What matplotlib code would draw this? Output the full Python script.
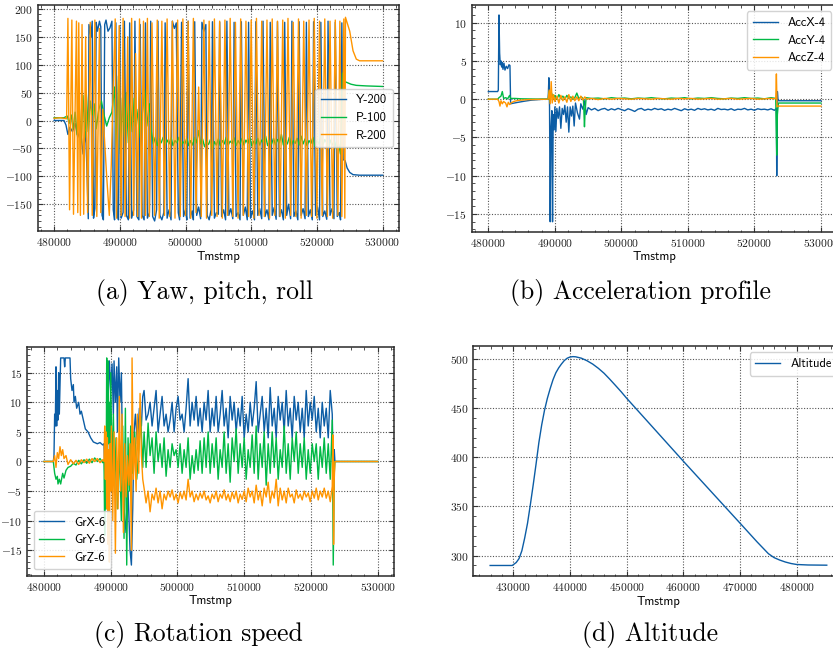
import numpy as np
import matplotlib
matplotlib.use('Agg')
import matplotlib.pyplot as plt
from matplotlib.ticker import MultipleLocator, AutoMinorLocator

# ---------------- data (time in thousands of ms) ----------------
yaw = [(480.0, 0), (481.5, 0), (481.8, -8), (482.1, -25), (482.4, -12), (482.8, -20), (483.2, -5),
       (483.6, -30), (484.0, -15), (484.4, -60), (484.8, -20), (485.0, -90), (485.2, -176), (485.3, 172),
       (485.6, 150), (485.8, 178), (486.0, -175), (486.2, -158), (486.4, 176), (486.6, 160), (486.9, 178),
       (487.1, 168), (487.3, -170), (487.5, -178), (487.7, 172), (487.9, 180), (488.2, 160), (488.5, 166),
       (488.8, 178), (489.0, -160), (489.2, -178), (489.4, 175), (489.6, -170), (489.8, -178), (490.0, 170),
       (490.2, -175), (490.5, -165), (490.7, 178), (491.0, -170), (491.3, -178), (491.5, 175), (491.8, -175),
       (492.1, -160), (492.3, 178), (492.6, -172), (492.9, -178), (493.1, 172), (493.4, -170), (493.7, -178),
       (493.9, 175), (494.2, -175), (494.5, -165), (494.7, 178), (495.0, -172), (495.3, -180), (495.6, -160),
       (495.8, 178), (496.1, -170), (496.4, -178), (496.7, -165), (496.9, 175), (497.2, -175), (497.5, -160),
       (497.8, -178), (498.0, 178), (498.3, 165), (498.6, 175), (498.9, -165), (499.1, -178), (499.4, 176),
       (499.7, -172), (500.0, -160), (500.2, -178), (500.4, 178), (500.7, -175), (501.0, -162), (501.2, -178),
       (501.4, 177), (501.7, -170), (502.0, -155), (502.3, -176), (502.5, 176), (502.8, 160), (503.1, 172),
       (503.3, -170), (503.6, -178), (503.9, -160), (504.1, 177), (504.4, -175), (504.7, -165), (505.0, -168),
       (505.2, 176), (505.5, -172), (505.8, -160), (506.1, -178), (506.3, 178), (506.6, -170), (506.9, -158),
       (507.2, -176), (507.4, 176), (507.7, -172), (508.0, -165), (508.3, -178), (508.5, 177), (508.8, -170),
       (509.1, -155), (509.4, -178), (509.6, 176), (509.9, -175), (510.2, -162), (510.5, -178), (510.7, 177),
       (511.0, -170), (511.3, -158), (511.6, -176), (511.8, 178), (512.1, -172), (512.4, -160), (512.7, -178),
       (512.9, 176), (513.2, -170), (513.5, -156), (513.8, -177), (514.0, 177), (514.3, -172), (514.6, -160),
       (514.9, -178), (515.1, 176), (515.4, -170), (515.7, -150), (516.0, -176), (516.2, 178), (516.5, -172),
       (516.8, -162), (517.1, -178), (517.3, 177), (517.6, -170), (517.9, -158), (518.2, -176), (518.4, 176),
       (518.7, -172), (519.0, -160), (519.3, -178), (519.5, 177), (519.8, -170), (520.1, -155), (520.4, -178),
       (520.6, 176), (520.9, -172), (521.2, -162), (521.5, -177), (521.7, 178), (522.0, -170), (522.3, -158),
       (522.6, -176), (522.8, 176), (523.1, -172), (523.4, -165), (523.6, -178), (523.8, 175), (524.0, -70),
       (524.3, -72), (524.6, -85), (525.0, -93), (525.5, -97), (526.5, -98), (530.0, -98)]

pitch = [(480.0, 5), (481.5, 5), (482.0, 8), (482.3, -5), (482.6, 10), (482.9, -15), (483.2, 15), (483.5, -25),
         (483.8, 30), (484.1, -40), (484.4, 45), (484.7, -30), (484.9, 50), (485.2, -20), (485.5, 35),
         (485.8, 10), (486.1, 30), (486.4, -15), (486.8, 20), (487.2, 35), (487.6, 10), (488.0, -10),
         (488.4, 5), (488.8, 15), (489.2, 60), (489.5, -50), (489.8, 80), (490.1, -60), (490.4, 40),
         (490.7, -30), (491.0, 50), (491.3, -40), (491.6, 30), (491.9, -20), (492.2, 40), (492.5, -10),
         (492.8, 20), (493.1, -30), (493.4, 10), (493.8, 55), (494.1, -10), (494.5, 30), (494.8, -20),
         (495.1, -42), (495.4, -30), (495.7, -45), (496.0, -33), (496.3, -40), (496.6, -30), (496.9, -44),
         (497.2, -35), (497.5, -42), (497.8, -31), (498.1, -45), (498.4, -36), (498.7, -40), (499.0, -30),
         (499.3, -46), (499.6, -38), (499.9, -42), (500.2, -32), (500.5, -45), (500.8, -36), (501.1, -44),
         (501.4, -30), (501.7, -40), (502.0, -18), (502.3, -42), (502.6, -33), (502.9, -47), (503.2, -38),
         (503.5, -43), (503.8, -34), (504.1, -52), (504.4, -38), (504.7, -44), (505.0, -33), (505.3, -45),
         (505.6, -36), (505.9, -42), (506.2, -30), (506.5, -44), (506.8, -37), (507.1, -41), (507.4, -31),
         (507.7, -45), (508.0, -36), (508.3, -42), (508.6, -32), (508.9, -44), (509.2, -35), (509.5, -41),
         (509.8, -30), (510.1, -46), (510.4, -37), (510.7, -42), (511.0, -32), (511.3, -44), (511.6, -35),
         (511.9, -40), (512.2, -28), (512.5, -45), (512.8, -36), (513.1, -42), (513.4, -32), (513.7, -44),
         (514.0, -34), (514.3, -40), (514.6, -25), (514.9, -44), (515.2, -35), (515.5, -42), (515.8, -30),
         (516.1, -45), (516.4, -36), (516.7, -41), (517.0, -32), (517.3, -44), (517.6, -28), (517.9, -42),
         (518.2, -33), (518.5, -45), (518.8, -36), (519.1, -41), (519.4, -30), (519.7, -46), (520.0, -36),
         (520.3, -42), (520.6, -28), (520.9, -44), (521.2, -34), (521.5, -40), (521.8, -48), (522.1, -35),
         (522.4, -44), (522.7, -38), (523.0, -50), (523.3, -42), (523.6, -60), (523.9, 85), (524.2, 70),
         (524.6, 68), (525.2, 65), (526.0, 63), (527.5, 62), (530.0, 61)]

roll = [(480.0, 4), (481.0, 5), (481.9, 3), (482.1, 183), (482.35, -160), (482.7, 180), (482.95, -168),
        (483.4, 178), (483.6, -165), (483.75, 175), (484.0, -170), (484.25, 172), (484.5, -168), (484.8, 150),
        (485.1, -165), (485.5, 176), (485.8, -170), (486.2, 180), (486.5, -172), (486.9, 165), (487.1, -165),
        (487.4, 20), (488.0, -100), (488.4, -170), (488.7, -80), (489.0, 60), (489.3, 182), (489.5, -175),
        (489.9, 170), (490.2, -170), (490.5, 183), (490.8, -172), (491.2, 150), (491.5, -175), (491.8, 183),
        (492.1, -170), (492.4, 120), (492.7, -172), (493.0, 182), (493.3, -175), (493.6, 178), (493.9, -170),
        (494.2, 183), (494.5, -172), (494.9, 175), (495.3, -170), (495.7, 180), (496.0, -175), (496.4, 178),
        (496.8, -170), (497.2, 182), (497.6, -172), (498.0, 178), (498.4, -175), (498.8, 180), (499.2, -172),
        (499.6, 182), (500.0, -170), (500.4, 178), (500.8, -175), (501.2, 183), (501.6, -165), (502.0, 60),
        (502.4, -172), (502.8, 180), (503.2, -175), (503.6, 178), (504.0, -170), (504.4, 182), (504.8, -172),
        (505.2, 178), (505.6, -175), (506.0, 180), (506.4, -170), (506.8, 183), (507.2, -172), (507.6, 176),
        (508.0, -175), (508.4, 182), (508.8, -170), (509.2, 178), (509.6, -172), (510.0, 180), (510.4, -175),
        (510.8, 183), (511.2, -170), (511.6, 178), (512.0, -172), (512.4, 180), (512.8, -175), (513.2, 182),
        (513.6, -170), (514.0, 178), (514.4, -172), (514.8, 180), (515.2, -175), (515.6, 183), (516.0, -170),
        (516.4, 176), (516.8, -172), (517.2, 182), (517.6, -175), (518.0, 178), (518.4, -170), (518.8, 180),
        (519.2, -172), (519.6, 183), (520.0, -175), (520.4, 178), (520.8, -170), (521.2, 182), (521.6, -172),
        (522.0, 178), (522.4, -175), (522.8, 180), (523.2, -170), (523.5, 178), (523.8, -172), (524.1, 182),
        (524.25, -175), (524.35, 185), (525.0, 160), (525.5, 125), (526.0, 110), (526.5, 107), (528.0, 107),
        (530.0, 107)]

acc_x = [(480.0, 1.0), (481.4, 1.0), (481.5, 1.2), (481.6, 11.0), (481.7, 6.0), (481.8, 4.5), (481.9, 5.0),
         (482.0, 4.2), (482.1, 4.8), (482.2, 3.9), (482.35, 4.7), (482.5, 3.8), (482.7, 4.3), (482.9, 4.0),
         (483.1, 4.5), (483.25, 4.4), (483.35, -0.6), (483.6, -0.55), (484.5, -0.4), (485.5, -0.25),
         (486.5, -0.12), (488.0, -0.02), (489.0, 0.0), (489.1, 2.8), (489.2, -1.0), (489.3, -16.0),
         (489.4, -4.0), (489.55, -1.5), (489.65, -16.0), (489.75, -2.0), (489.9, -4.0), (490.0, -1.0),
         (490.15, -4.2), (490.3, -1.2), (490.5, -2.5), (490.7, -1.0), (490.9, -3.8), (491.1, -1.2),
         (491.3, -2.0), (491.5, -0.8), (491.7, -3.0), (491.9, -1.0), (492.1, -4.3), (492.3, -1.0),
         (492.5, -2.2), (492.7, -0.9), (492.9, -3.5), (493.1, -0.5), (493.4, -1.8), (493.7, -2.6),
         (493.9, -0.6), (494.2, -1.3), (494.5, -0.2), (494.7, -2.0), (495.0, -1.1), (495.5, -1.4),
         (496.0, -1.2), (496.5, -1.5), (497.0, -1.3), (497.5, -1.2), (498.0, -1.45), (498.5, -1.25),
         (499.0, -1.4), (499.5, -1.2), (500.0, -1.35), (500.5, -1.5), (501.0, -1.25), (501.5, -1.4),
         (502.0, -1.6), (502.5, -1.3), (503.0, -1.2), (503.5, -1.45), (504.0, -1.3), (504.5, -1.4),
         (505.0, -1.2), (505.5, -1.35), (506.0, -1.25), (506.5, -1.45), (507.0, -1.3), (507.5, -1.4),
         (508.0, -1.2), (508.5, -1.35), (509.0, -1.5), (509.5, -1.25), (510.0, -1.4), (510.5, -1.3),
         (511.0, -1.45), (511.5, -1.2), (512.0, -1.35), (512.5, -1.25), (513.0, -1.4), (513.5, -1.3),
         (514.0, -1.45), (514.5, -1.2), (515.0, -1.35), (515.5, -1.3), (516.0, -1.4), (516.5, -1.25),
         (517.0, -1.45), (517.5, -1.3), (518.0, -1.35), (518.5, -1.2), (519.0, -1.4), (519.5, -1.3),
         (520.0, -1.45), (520.5, -1.25), (521.0, -1.35), (521.5, -1.3), (522.0, -1.4), (522.5, -1.25),
         (523.0, -1.45), (523.3, -1.2), (523.35, -10.0), (523.45, 1.0), (523.55, -0.2), (530.0, -0.2)]

acc_y = [(480.0, 0.0), (481.4, 0.0), (481.6, 0.2), (481.9, 0.4), (482.1, 1.0), (482.3, 0.1), (482.6, 0.2),
         (482.9, 0.05), (483.2, 0.5), (483.35, 0.1), (484.0, 0.1), (485.0, 0.05), (489.0, 0.0), (489.1, 1.0),
         (489.25, -0.3), (489.5, 0.8), (489.8, 0.1), (490.0, 0.5), (490.3, 0.0), (490.6, 0.6), (490.9, 0.1),
         (491.2, 0.4), (491.5, 0.0), (491.8, 0.5), (492.1, 0.1), (492.4, 0.3), (492.7, 0.0), (493.0, 0.2),
         (493.3, 0.8), (493.6, 0.1), (494.0, 0.3), (494.3, 0.0), (494.45, -3.6), (494.55, -1.5), (494.7, 0.2),
         (495.5, 0.1), (496.5, 0.15), (497.5, 0.05), (498.5, 0.2), (499.5, 0.1), (500.5, 0.15), (501.5, 0.05),
         (502.5, 0.15), (503.5, 0.1), (504.5, 0.2), (505.5, 0.1), (506.5, 0.05), (507.5, 0.15), (508.5, 0.1),
         (509.5, 0.2), (510.5, 0.05), (511.5, 0.15), (512.5, 0.1), (513.5, 0.2), (514.5, 0.1), (515.5, 0.05),
         (516.5, 0.15), (517.5, 0.1), (518.5, 0.2), (519.5, 0.1), (520.5, 0.15), (521.5, 0.05), (522.5, 0.2),
         (523.2, 0.1), (523.35, -7.3), (523.45, -2.0), (523.6, -0.5), (530.0, -0.5)]

acc_z = [(480.0, 0.0), (481.4, 0.0), (481.6, -0.3), (481.75, -0.9), (481.9, -0.2), (482.1, -0.6), (482.3, -0.3),
         (482.6, -0.5), (482.8, -1.0), (483.0, -0.4), (483.2, -0.7), (483.4, -0.5), (483.8, -0.3),
         (484.5, -0.15), (486.0, -0.05), (489.0, 0.0), (489.15, 1.2), (489.3, -0.6), (489.45, 2.3),
         (489.6, -0.5), (489.8, 0.6), (490.0, -0.3), (490.3, 0.4), (490.6, -0.5), (490.9, 0.5), (491.2, -0.2),
         (491.5, 0.3), (491.8, -0.4), (492.1, 0.6), (492.4, -0.3), (492.7, 0.4), (493.0, -0.2), (493.3, 0.3),
         (493.6, -0.2), (493.9, 0.4), (494.2, -0.1), (494.5, 0.3), (494.8, 0.0), (495.5, 0.1), (496.5, -0.05),
         (497.5, 0.1), (498.5, 0.0), (499.5, 0.1), (500.5, 0.05), (501.5, 0.0), (502.5, 0.1), (503.5, 0.05),
         (504.5, 0.0), (505.5, 0.1), (506.5, 0.05), (507.5, 0.0), (508.5, 0.1), (509.5, 0.05), (510.5, 0.1),
         (511.5, 0.0), (512.5, 0.05), (513.5, 0.1), (514.5, 0.0), (515.5, 0.05), (516.5, 0.1), (517.5, 0.0),
         (518.5, 0.05), (519.5, 0.1), (520.5, 0.0), (521.5, 0.05), (522.5, 0.1), (523.2, 0.05), (523.3, 3.3),
         (523.4, -1.0), (523.5, -0.9), (530.0, -0.9)]

gyro_x = [(480.0, 0), (481.4, 0), (481.5, 1), (481.6, 8), (481.7, 6), (481.8, 16), (481.9, 6), (482.0, 12),
          (482.1, 7), (482.2, 15), (482.3, 8), (482.5, 17.5), (483.0, 17.5), (483.1, 16), (483.2, 17.5),
          (483.9, 17.5), (484.0, 14), (484.2, 12), (484.4, 13), (484.5, 10), (484.7, 11), (484.9, 9),
          (485.2, 10), (485.4, 8), (485.6, 8.5), (485.9, 7), (486.2, 5.5), (486.6, 5), (487.0, 4), (487.4, 3.3),
          (488.0, 3), (488.4, 3.2), (488.8, 2.8), (489.0, 3), (489.1, -2), (489.2, 5), (489.4, -5), (489.6, 10),
          (489.8, 17), (490.0, 12), (490.2, 16.5), (490.4, 8), (490.5, 17), (490.7, 10), (490.9, 16), (491.0, 5),
          (491.2, 17.5), (491.4, 10), (491.6, 15), (491.8, -2), (492.0, -8), (492.3, -12), (492.6, -5),
          (492.9, -15), (493.1, -17.5), (493.3, -8), (493.5, 5), (493.7, 8), (494.0, 3), (494.3, 9), (494.6, 6),
          (494.8, 11), (495.0, 12), (495.3, 7), (495.6, 8), (495.9, 10), (496.2, 6), (496.5, 9), (496.8, 12),
          (497.1, 5), (497.4, 8), (497.7, 11), (498.0, 6), (498.3, 8), (498.6, 5), (498.9, 7), (499.2, 10),
          (499.5, 5), (499.8, 9), (500.1, 11), (500.4, 7), (500.7, 8), (501.0, 5), (501.3, 9), (501.6, 14),
          (501.9, 6), (502.2, 10), (502.5, 7), (502.8, 11), (503.1, 6), (503.4, 9), (503.7, 5), (504.0, 10),
          (504.3, 7), (504.6, 12), (504.9, 5), (505.2, 9), (505.5, 6), (505.8, 11), (506.1, 5), (506.4, 8),
          (506.7, 12), (507.0, 6), (507.3, 9), (507.6, 4), (507.9, 11), (508.2, 7), (508.5, 10), (508.8, 5),
          (509.1, 9), (509.4, 6), (509.7, 11), (510.0, 4), (510.3, 8), (510.6, 5), (510.9, 10), (511.2, 6),
          (511.5, 9), (511.8, 13.5), (512.1, 5), (512.4, 8), (512.7, 11), (513.0, 5), (513.3, 9), (513.6, 4),
          (513.9, 12.5), (514.2, 6), (514.5, 9), (514.8, 4), (515.1, 11), (515.4, 7), (515.7, 10), (516.0, 5),
          (516.3, 12), (516.6, 6), (516.9, 9), (517.2, 4), (517.5, 11), (517.8, 7), (518.1, 10), (518.4, 5),
          (518.7, 9), (519.0, 4), (519.3, 12), (519.6, 6), (519.9, 10), (520.2, 7), (520.5, 11), (520.8, 5),
          (521.1, 9), (521.4, 4), (521.7, 10), (522.0, 6), (522.3, 9), (522.6, 4), (522.9, 12), (523.2, 8),
          (523.4, -5), (523.5, 2), (523.6, 0), (530.0, 0)]

gyro_y = [(480.0, 0), (481.4, 0), (481.6, -2), (481.8, -3), (482.0, -2.5), (482.1, -3.8), (482.3, -3),
          (482.5, -3.8), (482.8, -2), (483.0, -2.8), (483.3, -1.5), (483.6, -1), (484.0, -0.8), (484.4, -0.3),
          (484.8, -0.6), (485.2, 0.2), (485.6, -0.4), (486.0, 0.3), (486.4, -0.3), (486.8, 0.4), (487.2, -0.2),
          (487.6, 0.6), (488.0, 0), (488.4, 0.5), (488.8, -0.2), (489.0, 0), (489.1, -12.5), (489.2, 5),
          (489.3, -8), (489.4, 17.5), (489.5, -5), (489.6, 17), (489.7, 3), (489.8, 10), (489.9, -3),
          (490.0, 15), (490.2, -2), (490.4, 8), (490.6, -5), (490.8, 4), (491.0, -8), (491.3, 2), (491.6, -10),
          (491.8, 6), (492.0, -13), (492.2, 9), (492.4, -17.5), (492.6, 4), (492.8, -5), (493.0, 6),
          (493.3, -2), (493.6, 5), (493.9, -3), (494.2, 2), (494.5, 7.5), (494.8, -1), (495.0, 5), (495.3, -1),
          (495.6, 6.5), (495.9, 1), (496.2, 4), (496.5, -2), (496.8, 5), (497.1, 0), (497.4, 3), (497.7, -1),
          (498.0, 4), (498.3, -2.5), (498.6, 2), (498.9, -1), (499.2, 3), (499.5, 1), (499.8, 2), (500.1, -1),
          (500.4, 3), (500.7, -2), (501.0, 2), (501.3, -1), (501.6, 4), (501.9, -3), (502.2, 1), (502.5, -2),
          (502.8, 2), (503.1, -1.5), (503.4, 3.5), (503.7, -2), (504.0, 4), (504.3, -1), (504.6, 5),
          (504.9, -2), (505.2, 3), (505.5, -1), (505.8, 4), (506.1, -3), (506.4, 2), (506.7, -1), (507.0, 5),
          (507.3, -2), (507.6, 3), (507.9, -3.5), (508.2, 4), (508.5, 0), (508.8, 5.5), (509.1, -2), (509.4, 3),
          (509.7, -1), (510.0, 4), (510.3, -3), (510.6, 2), (510.9, -1), (511.2, 4.5), (511.5, -2), (511.8, 6),
          (512.1, -3), (512.4, 3), (512.7, -1), (513.0, 5), (513.3, -4), (513.6, 3), (513.9, -2), (514.2, 5),
          (514.5, -1), (514.8, 4), (515.1, -3), (515.4, 2), (515.7, -1), (516.0, 6), (516.3, -2), (516.6, 3),
          (516.9, -3), (517.2, 4), (517.5, 0), (517.8, 5), (518.1, -2), (518.4, 3), (518.7, -1), (519.0, 4),
          (519.3, -3), (519.6, 2), (519.9, -2), (520.2, 3), (520.5, 0), (520.8, 3), (521.1, -3), (521.4, 2.5),
          (521.7, -1), (522.0, 4), (522.3, -2), (522.6, 3), (522.9, -3), (523.2, 7), (523.35, -17.5),
          (523.5, -2), (523.6, 0), (530.0, 0)]

gyro_z = [(480.0, 0), (481.4, 0), (481.6, 1), (481.8, -1), (482.0, 1.5), (482.2, 0.5), (482.4, 2.5), (482.6, 1),
          (482.8, 2), (483.0, 0.5), (483.3, 1), (483.6, -0.5), (484.0, 0.3), (484.4, -0.4), (484.8, 0.2),
          (485.2, -0.5), (485.6, 0.3), (486.0, -0.2), (486.4, 0.4), (486.8, -0.3), (487.2, 0.5), (487.6, 0),
          (488.0, 0.5), (488.4, -0.2), (488.8, 0.3), (489.0, 0), (489.1, 6), (489.2, -3), (489.3, 5),
          (489.4, -8), (489.5, 4), (489.6, -14), (489.7, 2), (489.8, -17), (489.9, 3), (490.0, -5), (490.1, 6),
          (490.3, -10), (490.5, 5), (490.7, -15.5), (490.9, 4), (491.1, -8), (491.3, 11), (491.5, -5),
          (491.7, 8), (491.9, -12), (492.1, 3), (492.3, -6), (492.5, 1), (492.7, -4), (492.9, 3), (493.1, -15),
          (493.2, 17.5), (493.4, -3), (493.6, 4), (493.8, -5), (494.0, 8), (494.2, -2), (494.4, 11.5),
          (494.6, 1), (494.8, -3), (495.0, -4.5), (495.3, -7), (495.6, -5), (495.9, -8.5), (496.2, -5.5),
          (496.5, -6.5), (496.8, -4.5), (497.1, -7), (497.4, -5), (497.7, -8), (498.0, -5.5), (498.3, -6.5),
          (498.6, -5), (498.9, -6), (499.2, -4.8), (499.5, -6.5), (499.8, -5.5), (500.1, -7), (500.4, -5.2),
          (500.7, -6.3), (501.0, -5), (501.3, -6.5), (501.6, -3), (501.9, -6), (502.2, -5), (502.5, -6.8),
          (502.8, -5.5), (503.1, -6.5), (503.4, -5.3), (503.7, -6.2), (504.0, -5), (504.3, -6.5), (504.6, -5.8),
          (504.9, -7), (505.2, -5.5), (505.5, -6.3), (505.8, -5), (506.1, -6.8), (506.4, -5.5), (506.7, -6.2),
          (507.0, -4.8), (507.3, -6.5), (507.6, -5.5), (507.9, -6.8), (508.2, -5.2), (508.5, -6.3), (508.8, -5),
          (509.1, -7), (509.4, -5.5), (509.7, -6.4), (510.0, -5), (510.3, -6.8), (510.6, -4.5), (510.9, -6),
          (511.2, -5), (511.5, -7), (511.8, -4), (512.1, -6.5), (512.4, -5), (512.7, -7.5), (513.0, -4.5),
          (513.3, -6), (513.6, -3.5), (513.9, -7), (514.2, -5), (514.5, -6.2), (514.8, -3), (515.1, -7.5),
          (515.4, -4.5), (515.7, -6.5), (516.0, -5), (516.3, -7), (516.6, -4.5), (516.9, -6), (517.2, -5.5),
          (517.5, -7), (517.8, -4.8), (518.1, -6.2), (518.4, -5.5), (518.7, -6.5), (519.0, -5), (519.3, -6),
          (519.6, -5.3), (519.9, -6.8), (520.2, -5), (520.5, -6.2), (520.8, -4.5), (521.1, -6.5), (521.4, -5),
          (521.7, -6), (522.0, -4.5), (522.3, -6.2), (522.6, -5), (522.9, -6.8), (523.2, -4.2), (523.3, 4.5),
          (523.4, -14), (523.5, -3), (523.6, 0), (530.0, 0)]

altitude = [(425.9, 290), (429.8, 290), (430.5, 293), (431.0, 297), (431.5, 305), (432.0, 318), (432.5, 333),
            (433.0, 352), (433.5, 372), (434.0, 393), (434.5, 415), (435.0, 433), (435.5, 448), (436.0, 460),
            (436.5, 470), (437.0, 479), (437.5, 486), (438.0, 491), (438.5, 495), (439.0, 498.5),
            (439.5, 500.8), (440.0, 502), (440.5, 502.4), (441.0, 502.2), (442.0, 500.8), (443.0, 498.2),
            (444.0, 494.8), (445.0, 490.5), (446.0, 485.5), (447.0, 479.5), (448.0, 473.2), (449.0, 466.8),
            (450.0, 460), (455.0, 428), (460.0, 396), (465.0, 364.5), (470.0, 333), (473.0, 314),
            (475.0, 302), (476.0, 298), (477.0, 295.5), (478.0, 293.5), (479.0, 292), (480.0, 291),
            (482.0, 290.5), (485.3, 290.3)]

labels_a = ['Y-200', 'P-100', 'R-200']
labels_b = ['AccX-4', 'AccY-4', 'AccZ-4']
labels_c = ['GrX-6', 'GrY-6', 'GrZ-6']
labels_d = ['Altitude']
captions = ['(a) Yaw, pitch, roll', '(b) Acceleration profile', '(c) Rotation speed', '(d) Altitude']

# ---------------- style ----------------
colors = ['#0C5DA5', '#00B945', '#FF9500']
plt.rcParams.update({
    'font.family': ['cmr10'],
    'mathtext.fontset': 'cm',
    'axes.formatter.use_mathtext': True,
    'axes.formatter.useoffset': False,
    'font.size': 8,
    'axes.linewidth': 1.1,
    'axes.edgecolor': '#2a2a2a',
    'xtick.direction': 'in', 'ytick.direction': 'in',
    'xtick.top': True, 'ytick.right': True,
    'xtick.major.size': 3.5, 'ytick.major.size': 3.5,
    'xtick.minor.size': 1.8, 'ytick.minor.size': 1.8,
    'xtick.minor.visible': True, 'ytick.minor.visible': True,
    'xtick.major.width': 0.8, 'ytick.major.width': 0.8,
    'xtick.minor.width': 0.6, 'ytick.minor.width': 0.6,
    'xtick.labelsize': 8.3, 'ytick.labelsize': 8.3,
    'xtick.color': '#333333', 'ytick.color': '#333333',
    'xtick.labelcolor': '#222222', 'ytick.labelcolor': '#222222',
})

W, H = 833, 651
fig = plt.figure(figsize=(W / 100, H / 100), dpi=100)


def make_ax(l, r, t, b):
    return fig.add_axes([l / W, 1 - b / H, (r - l) / W, (b - t) / H])


def decorate(ax, xlim, ylim, xstep, ystep):
    ax.set_xlim(*xlim)
    ax.set_ylim(*ylim)
    ax.xaxis.set_major_locator(MultipleLocator(xstep))
    ax.yaxis.set_major_locator(MultipleLocator(ystep))
    ax.xaxis.set_minor_locator(AutoMinorLocator(5))
    ax.yaxis.set_minor_locator(AutoMinorLocator(5))
    ax.grid(True, which='major', linestyle=(0, (1, 1.5)), linewidth=0.8, color='#555555')
    ax.set_axisbelow(True)
    ax.set_xlabel('Tmstmp', family='cmss10', fontsize=9, labelpad=2)


def plot_series(ax, series, labels):
    for s, lab, c in zip(series, labels, colors):
        arr = np.array(s, dtype=float)
        ax.plot(arr[:, 0] * 1000, arr[:, 1], color=c, lw=1.0, label=lab)


legend_kw = dict(prop={'family': 'cmss10', 'size': 9}, frameon=True, fancybox=True,
                 framealpha=0.85, edgecolor='#cccccc', handlelength=2.0, handletextpad=0.8,
                 borderpad=0.45, labelspacing=0.45)

# (a)
ax = make_ax(37.7, 399, 5, 231)
plot_series(ax, [yaw, pitch, roll], labels_a)
decorate(ax, (477500, 532500), (-198, 207), 10000, 50)
ax.legend(loc='center right', **legend_kw)

# (b)
ax = make_ax(471.7, 837.6, 5, 231.7)
plot_series(ax, [acc_x, acc_y, acc_z], labels_b)
decorate(ax, (477500, 532500), (-17.3, 12.3), 10000, 5)
ax.legend(loc='upper right', **legend_kw)

# (c)
ax = make_ax(27.3, 394.3, 346.7, 575.7)
plot_series(ax, [gyro_x, gyro_y, gyro_z], labels_c)
decorate(ax, (477500, 532500), (-19.3, 19.4), 10000, 5)
ax.legend(loc='lower left', **legend_kw)

# (d)
ax = make_ax(473.3, 843.6, 346, 576)
plot_series(ax, [altitude], labels_d)
decorate(ax, (422930, 488270), (279.3, 513.2), 10000, 50)
ax.legend(loc='upper right', **legend_kw)

# captions
cap_pos = [(205, 292), (640, 292), (198, 634), (650, 634)]
for txt, (x, y) in zip(captions, cap_pos):
    fig.text(x / W, 1 - y / H, txt, ha='center', va='center', family='cmr10', fontsize=18.5)

fig.savefig('out.png', dpi=100)
